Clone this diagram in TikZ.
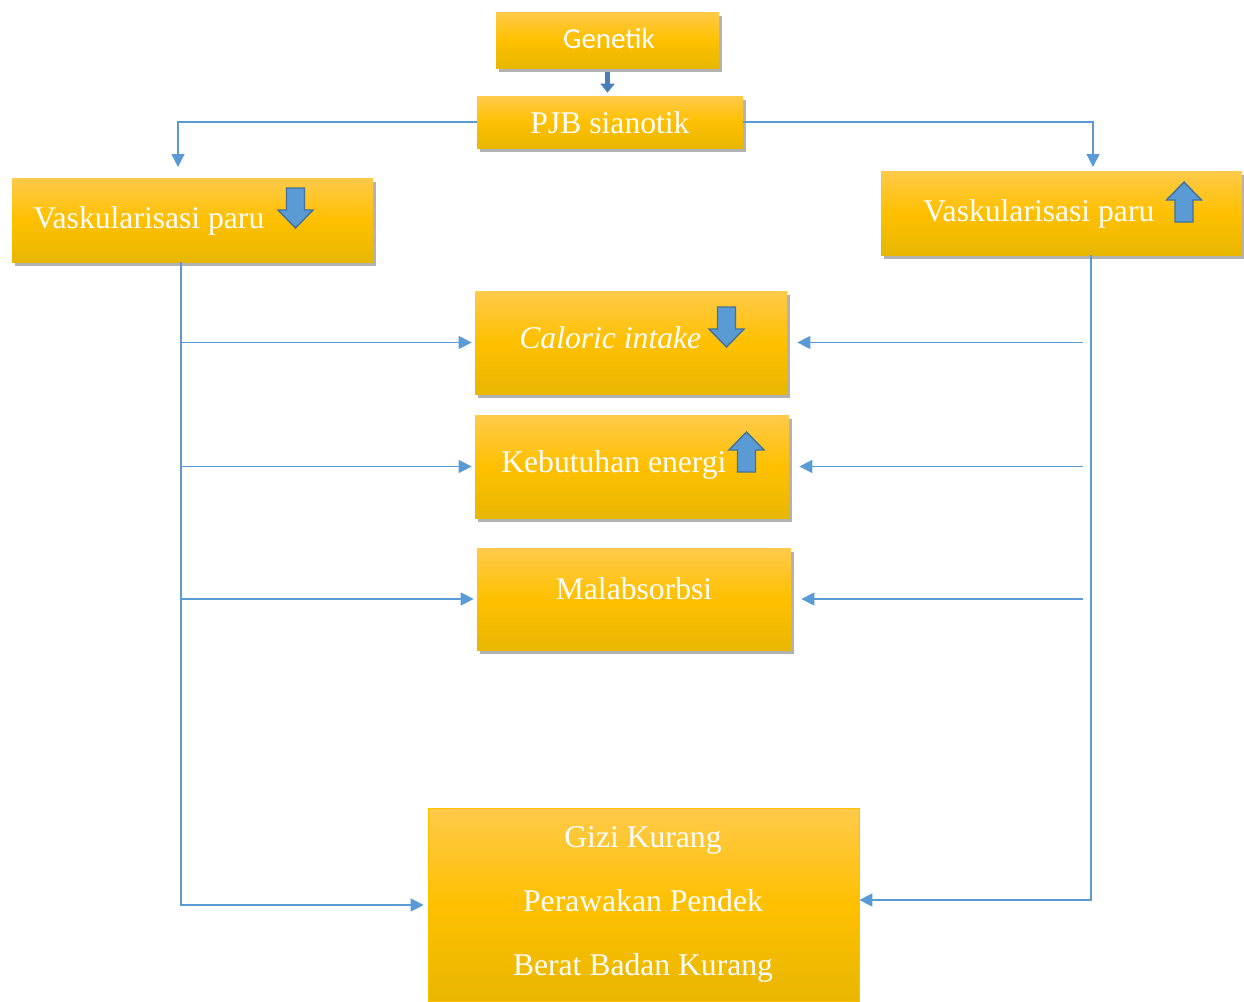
\documentclass[tikz,border=0pt]{standalone}
\usepackage{fontspec}
\setmainfont{Liberation Serif}
\newfontfamily\calibrifont{Carlito}
\usepackage{xcolor}
\usepackage{tikz}
\usetikzlibrary{arrows.meta, positioning, fit, shadows}
\definecolor{boxtop}{HTML}{FFCA4A}
\definecolor{boxmid}{HTML}{FFC000}
\definecolor{boxbot}{HTML}{E8B700}
\definecolor{flowblue}{HTML}{5B9BD5}
\definecolor{flowedge}{HTML}{41719C}
\definecolor{geneblue}{HTML}{4A7EBB}
\tikzset{
    diagram/.style={x=0.02cm, y=-0.02cm, font=\fontsize{18}{22}\selectfont},
    diagram box/.style={inner sep=0pt, top color=boxtop, bottom color=boxbot,
        middle color=boxmid},
    diagram shadow/.style={drop shadow={shadow xshift=0.06cm,
        shadow yshift=-0.08cm, opacity=0.3, fill=black}},
    diagram text/.style={text=white, inner sep=0pt},
    diagram arrow/.style={-{Triangle[width=0.26cm, length=0.26cm]},
        flowblue, line width=0.7pt},
    gene arrow/.style={-{Triangle[width=0.28cm, length=0.18cm]}, geneblue,
        line width=0.11cm, shorten <=0.08cm, shorten >=0.06cm},
    down mark/.pic={\draw[flowedge, fill=flowblue, line width=0.8pt]
        (-9,0) -- (9,0) -- (9,22) -- (17.5,22) -- (0,40) -- (-17.5,22)
        -- (-9,22) -- cycle;},
    up mark/.pic={\draw[flowedge, fill=flowblue, line width=0.8pt]
        (-9,0) -- (9,0) -- (9,-22) -- (17.5,-22) -- (0,-40) -- (-17.5,-22)
        -- (-9,-22) -- cycle;},
}

\begin{document}
\begin{tikzpicture}[diagram]
    \useasboundingbox (0,0) rectangle (1244,1001);

    % top of the chart
    \node[diagram box, diagram shadow, fit={(496,12) (719,68)}] (genetik) {};
    \node[diagram text, font=\calibrifont\fontsize{16.5}{20}\selectfont, anchor=base]
        (genetiktxt) at (609,48) {Genetik};
    \node[diagram box, diagram shadow, fit={(477,96) (743,148)}] (pjb) {};
    \node[diagram text, anchor=base] (pjbtxt) at (610,133) {PJB sianotik};
    \draw[gene arrow] (genetik.south) -- (genetik.south |- pjb.north);

    % the two branches
    \node[diagram box, diagram shadow, fit={(12,178) (373,262)}] (vleft) {};
    \node[diagram text, anchor=base west] (vlefttxt) at (33,228) {Vaskularisasi paru};
    \pic at (295.5,188) {down mark};
    \node[diagram box, diagram shadow, fit={(881,171) (1242,255)}] (vright) {};
    \node[diagram text, anchor=base west] (vrighttxt) at (923,221) {Vaskularisasi paru};
    \pic at (1184,222) {up mark};

    % middle column
    \node[diagram box, diagram shadow, fit={(475,291) (787,394)}] (caloric) {};
    \node[diagram text, anchor=base west] (calorictxt) at (519,348) {\textit{Caloric intake}};
    \pic at (726.5,307) {down mark};
    \node[diagram box, diagram shadow, fit={(475,415) (789,518)}] (energi) {};
    \node[diagram text, anchor=base west] (energitxt) at (501,472) {Kebutuhan energi};
    \pic at (746.5,472) {up mark};
    \node[diagram box, diagram shadow, fit={(477,548) (791,650)}] (malab) {};
    \node[diagram text, anchor=base] (malabtxt) at (634,599) {Malabsorbsi};

    % outcome
    \node[diagram box, draw=boxmid, thin, fit={(428,808) (859,1001)}] (bottom) {};
    \node[diagram text, anchor=base] (gizitxt) at (643,847) {Gizi Kurang};
    \node[diagram text, anchor=base] (pendektxt) at (643,911) {Perawakan Pendek};
    \node[diagram text, anchor=base] (berattxt) at (643,975) {Berat Badan Kurang};

    % connectors
    \coordinate (ldrop) at (178,167);
    \coordinate (rdrop) at (1093,167);
    \coordinate (lbus) at (181,905);
    \coordinate (rbus) at (1091,900);
    \draw[diagram arrow] (pjb.west) -| (ldrop);
    \draw[diagram arrow] (pjb.east) -| (rdrop);
    \draw[diagram arrow, shorten >=0.08cm] (vleft.south -| lbus) -- (lbus)
        -- (bottom.west |- lbus);
    \draw[diagram arrow] (vright.south -| rbus) -- (rbus) -- (bottom.east |- rbus);
    \foreach \n in {caloric, energi, malab} {
        \draw[diagram arrow, shorten >=0.06cm] (\n.west -| lbus) -- (\n.west);
        \draw[diagram arrow, shorten <=0.16cm, shorten >=0.2cm]
            (\n.east -| rbus) -- (\n.east);
    }
\end{tikzpicture}
\end{document}
